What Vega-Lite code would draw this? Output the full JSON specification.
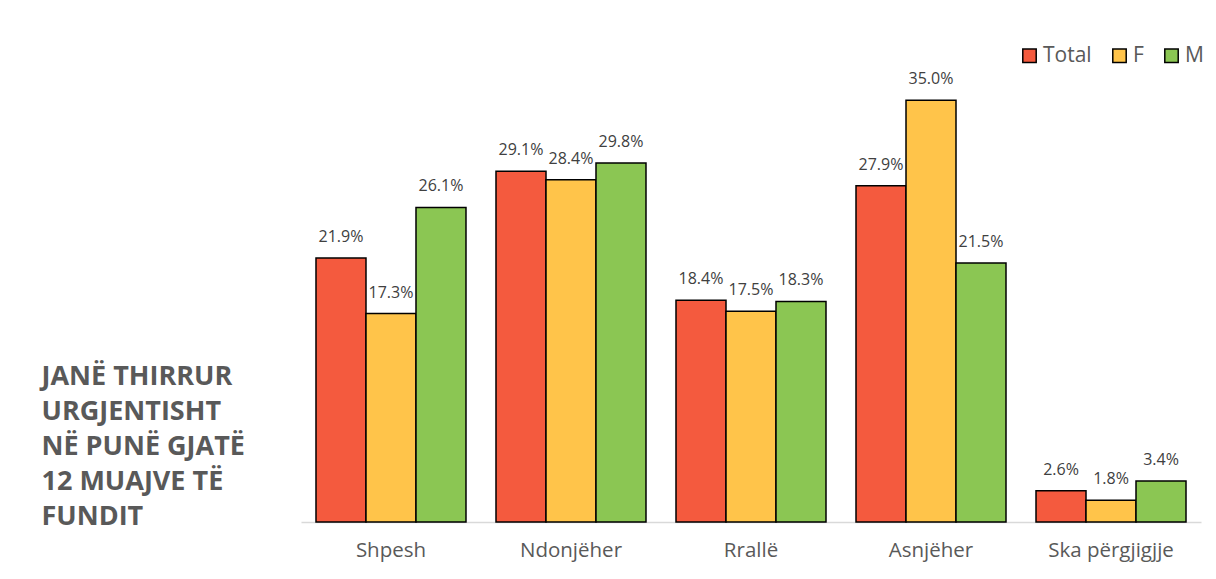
{
  "$schema": "https://vega.github.io/schema/vega-lite/v6.json",
  "autosize": "none",
  "width": 900,
  "height": 482,
  "padding": {"left": 301, "top": 40, "right": 15, "bottom": 57},
  "background": "white",
  "config": {"view": {"stroke": null}, "font": "Open Sans"},
  "data": {"values": [
    {"cat": "Shpesh", "g": "Total", "v": 0.219},
    {"cat": "Shpesh", "g": "F", "v": 0.173},
    {"cat": "Shpesh", "g": "M", "v": 0.261},
    {"cat": "Ndonjëher", "g": "Total", "v": 0.291},
    {"cat": "Ndonjëher", "g": "F", "v": 0.284},
    {"cat": "Ndonjëher", "g": "M", "v": 0.298},
    {"cat": "Rrallë", "g": "Total", "v": 0.184},
    {"cat": "Rrallë", "g": "F", "v": 0.175},
    {"cat": "Rrallë", "g": "M", "v": 0.183},
    {"cat": "Asnjëher", "g": "Total", "v": 0.279},
    {"cat": "Asnjëher", "g": "F", "v": 0.350},
    {"cat": "Asnjëher", "g": "M", "v": 0.215},
    {"cat": "Ska përgjigjje", "g": "Total", "v": 0.026},
    {"cat": "Ska përgjigjje", "g": "F", "v": 0.018},
    {"cat": "Ska përgjigjje", "g": "M", "v": 0.034}
  ]},
  "encoding": {
    "x": {
      "field": "cat", "type": "nominal", "sort": null,
      "scale": {"paddingInner": 0.1667, "paddingOuter": 0.0833},
      "axis": {"title": null, "labelAngle": 0, "ticks": false, "domainColor": "#D9D9D9", "domainWidth": 1.5,
               "labelFontSize": 20.5, "labelColor": "#595959", "labelPadding": 18}
    },
    "xOffset": {"field": "g", "type": "nominal", "sort": ["Total", "F", "M"]},
    "y": {
      "field": "v", "type": "quantitative",
      "scale": {"domain": [0, 0.4]},
      "axis": {"domain": false, "ticks": false, "labels": false, "grid": false,
               "title": ["JANË THIRRUR", "URGJENTISHT", "NË PUNË GJATË", "12 MUAJVE TË", "FUNDIT"],
               "titleAngle": 0, "titleAlign": "left", "titleBaseline": "top",
               "titleX": -260, "titleY": 323, "titleFontSize": 27, "titleFontWeight": "bold",
               "titleColor": "#595959", "titleLineHeight": 35, "titleFont": "Open Sans"}
    }
  },
  "layer": [
    {
      "mark": {"type": "bar", "stroke": "black", "strokeWidth": 1.5},
      "encoding": {
        "color": {
          "field": "g", "type": "nominal",
          "scale": {"domain": ["Total", "F", "M"], "range": ["#F45A3E", "#FFC44A", "#8BC653"]},
          "legend": {"title": null, "orient": "none", "direction": "horizontal", "legendX": 718, "legendY": 5,
                     "symbolType": "square", "symbolSize": 180, "symbolStrokeColor": "black", "symbolStrokeWidth": 1.5,
                     "labelFontSize": 21, "labelColor": "#595959", "columnPadding": 17, "labelOffset": 3}
        }
      }
    },
    {
      "mark": {"type": "text", "baseline": "bottom", "dy": -13, "fontSize": 16, "color": "#404040"},
      "encoding": {"text": {"field": "v", "type": "quantitative", "format": ".1%"}}
    }
  ]
}
